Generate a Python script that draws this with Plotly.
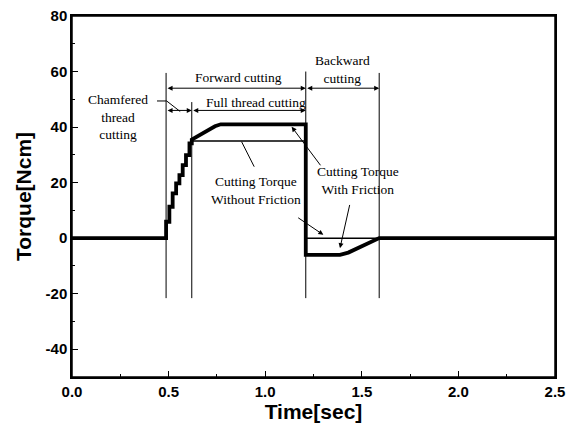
import plotly.graph_objects as go

# Staircase (chamfered thread cutting)
step_t = [0.487, 0.504, 0.521, 0.539, 0.556, 0.573, 0.590, 0.608]
step_v = [5.9, 11.3, 16.1, 19.7, 22.7, 26.3, 29.9, 34.1]

# Cutting torque without friction (after staircase)
nof_t = [0.62, 1.21, 1.21, 1.59, 2.5]
nof_v = [35.0, 35.0, 0.0, 0.0, 0.0]

# Cutting torque with friction (after staircase)
fr_t = [0.62, 0.66, 0.70, 0.74, 0.77, 1.21, 1.21, 1.387, 1.43, 1.474, 1.53, 1.59, 2.5]
fr_v = [35.5, 37.2, 38.8, 40.3, 41.0, 41.0, -6.0, -6.0, -5.2, -3.7, -2.0, 0.0, 0.0]

# Phase boundaries (vertical guide lines)
guide_t = [0.487, 0.62, 1.21, 1.59]
guide_top = [59.5, 49.0, 60.0, 59.5]
guide_bot = [-21.6, -21.6, -21.6, -21.6]


def stair(ts, vs):
    xs, ys = [0.0], [0.0]
    prev = 0.0
    for t, v in zip(ts, vs):
        xs += [t, t]
        ys += [prev, v]
        prev = v
    return xs, ys


sx, sy = stair(step_t, step_v)

fig = go.Figure()

for t, top, bot in zip(guide_t, guide_top, guide_bot):
    fig.add_trace(go.Scatter(x=[t, t], y=[bot, top], mode="lines",
                             line=dict(color="black", width=1), hoverinfo="skip",
                             showlegend=False))

# without friction (thin)
fig.add_trace(go.Scatter(x=sx + [0.62] + nof_t, y=sy + [sy[-1]] + nof_v, mode="lines",
                         line=dict(color="black", width=1.5), showlegend=False))
# with friction (thick)
fig.add_trace(go.Scatter(x=sx + [0.62] + fr_t, y=sy + [sy[-1]] + fr_v, mode="lines",
                         line=dict(color="black", width=3.8), showlegend=False))

tfont = dict(family="Liberation Serif, Times New Roman, serif", size=13.5, color="black")

ann = []
def text(x, y, s):
    ann.append(dict(x=x, y=y, xref="x", yref="y", text=s, showarrow=False,
                    font=tfont, align="center"))

def arrow(x0, y0, x1, y1, both=False, head=True):
    d = dict(x=x1, y=y1, ax=x0, ay=y0, xref="x", yref="y", axref="x", ayref="y",
             text="", showarrow=True, arrowcolor="black", arrowwidth=1,
             arrowhead=2 if head else 0, arrowsize=1)
    if both:
        d["arrowside"] = "end+start"
        d["startarrowhead"] = 2
    ann.append(d)

text(0.86, 57.7, "Forward cutting")
text(1.40, 60.7, "Backward<br>cutting")
text(0.95, 49.0, "Full thread cutting")
text(0.24, 43.8, "Chamfered<br>thread<br>cutting")
text(0.95, 17.3, "Cutting Torque<br>Without Friction")
text(1.48, 20.7, "Cutting Torque<br>With Friction")

arrow(0.487, 54.0, 1.21, 54.0, both=True)
arrow(1.21, 54.0, 1.59, 54.0, both=True)
arrow(0.62, 46.0, 1.21, 46.0, both=True)
arrow(0.487, 46.0, 0.62, 46.0, both=True)
# chamfered leader
fig.add_trace(go.Scatter(x=[0.44, 0.49, 0.56], y=[49.4, 49.4, 45.6], mode="lines",
                         line=dict(color="black", width=1), hoverinfo="skip", showlegend=False))
# without friction leaders
arrow(0.947, 25.2, 0.878, 34.7, head=False)
arrow(1.163, 7.7, 1.301, 1.2)
# with friction leaders
arrow(1.292, 25.7, 1.137, 40.1)
arrow(1.439, 12.5, 1.387, -3.6)

# page body has an 8px margin, so the figure is 8px smaller than the window
fig.update_layout(
    width=568, height=420,
    margin=dict(l=64, r=21, t=8, b=51),
    paper_bgcolor="white", plot_bgcolor="white",
    annotations=ann,
    font=dict(family="Liberation Sans, Arial, sans-serif", color="black"),
    shapes=[dict(type="rect", xref="paper", yref="paper", x0=0, x1=1, y0=0, y1=1,
                 line=dict(color="black", width=1.5), layer="above")],
)
axfont = dict(family="Liberation Sans, Arial, sans-serif", size=15, color="black")
fig.update_xaxes(range=[0, 2.5], tickvals=[0, 0.5, 1.0, 1.5, 2.0, 2.5], automargin=False,
                 ticktext=["<b>0.0</b>", "<b>0.5</b>", "<b>1.0</b>", "<b>1.5</b>", "<b>2.0</b>", "<b>2.5</b>"],
                 ticks="inside", ticklen=6, tickwidth=1, tickcolor="black",
                 minor=dict(tickvals=[0.25, 0.75, 1.25, 1.75, 2.25], ticks="inside", ticklen=3, tickcolor="black"),
                 showline=True, linecolor="black", linewidth=1.5, mirror=True,
                 showgrid=False, zeroline=False, tickfont=axfont, ticklabeloverflow="allow",
                 title=dict(text="<b>Time[sec]</b>", font=dict(family="Liberation Sans, Arial", size=21), standoff=0))
fig.update_yaxes(range=[-50, 80], tickvals=[-40, -20, 0, 20, 40, 60, 80], automargin=False,
                 ticktext=["<b>-40</b>", "<b>-20</b>", "<b>0</b>", "<b>20</b>", "<b>40</b>", "<b>60</b>", "<b>80</b>"],
                 ticks="inside", ticklen=6, tickwidth=1, tickcolor="black",
                 minor=dict(tickvals=[-30, -10, 10, 30, 50, 70], ticks="inside", ticklen=3, tickcolor="black"),
                 showline=True, linecolor="black", linewidth=1.5, mirror=True,
                 showgrid=False, zeroline=False, tickfont=axfont, ticklabeloverflow="allow",
                 title=dict(text="<b>Torque[Ncm]</b>", font=dict(family="Liberation Sans, Arial", size=21), standoff=8))

fig.write_html("out.html")
